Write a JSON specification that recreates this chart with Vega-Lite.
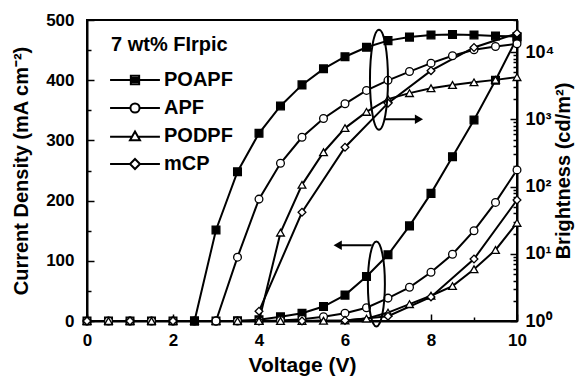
{
  "$schema": "https://vega.github.io/schema/vega-lite/v6.json",
  "width": 430,
  "height": 301,
  "autosize": {"type": "none"},
  "padding": {"left": 87, "top": 20, "right": 67, "bottom": 57},
  "background": "white",
  "config": {
    "view": {"stroke": "black", "strokeWidth": 2},
    "font": "Liberation Sans",
    "axis": {
      "grid": false,
      "domainColor": "black",
      "domainWidth": 2,
      "tickColor": "black",
      "tickWidth": 1.5,
      "labelFont": "Liberation Sans",
      "labelFontWeight": "bold",
      "labelFontSize": 17,
      "labelColor": "black",
      "titleFont": "Liberation Sans",
      "titleFontWeight": "bold",
      "titleFontSize": 20,
      "titleColor": "black"
    },
    "legend": {
      "labelFont": "Liberation Sans",
      "labelFontWeight": "bold",
      "labelFontSize": 20,
      "labelColor": "black",
      "titleFont": "Liberation Sans",
      "titleFontWeight": "bold",
      "titleFontSize": 20,
      "titleColor": "black"
    }
  },
  "datasets": {
    "cur": [
      {"s": "POAPF", "v": 0, "j": 0}, {"s": "POAPF", "v": 0.5, "j": 0}, {"s": "POAPF", "v": 1, "j": 0}, {"s": "POAPF", "v": 1.5, "j": 0}, {"s": "POAPF", "v": 2, "j": 0}, {"s": "POAPF", "v": 2.5, "j": 0}, {"s": "POAPF", "v": 3, "j": 0}, {"s": "POAPF", "v": 3.5, "j": 0.5}, {"s": "POAPF", "v": 4, "j": 2}, {"s": "POAPF", "v": 4.5, "j": 7}, {"s": "POAPF", "v": 5, "j": 13}, {"s": "POAPF", "v": 5.5, "j": 24}, {"s": "POAPF", "v": 6, "j": 43}, {"s": "POAPF", "v": 6.5, "j": 74}, {"s": "POAPF", "v": 7, "j": 110}, {"s": "POAPF", "v": 7.5, "j": 158}, {"s": "POAPF", "v": 8, "j": 212}, {"s": "POAPF", "v": 8.5, "j": 273}, {"s": "POAPF", "v": 9, "j": 334}, {"s": "POAPF", "v": 9.5, "j": 400}, {"s": "POAPF", "v": 10, "j": 470},
      {"s": "APF", "v": 0, "j": 0}, {"s": "APF", "v": 0.5, "j": 0}, {"s": "APF", "v": 1, "j": 0}, {"s": "APF", "v": 1.5, "j": 0}, {"s": "APF", "v": 2, "j": 0}, {"s": "APF", "v": 2.5, "j": 0}, {"s": "APF", "v": 3, "j": 0}, {"s": "APF", "v": 3.5, "j": 0}, {"s": "APF", "v": 4, "j": 0.5}, {"s": "APF", "v": 4.5, "j": 1}, {"s": "APF", "v": 5, "j": 3}, {"s": "APF", "v": 5.5, "j": 7}, {"s": "APF", "v": 6, "j": 13}, {"s": "APF", "v": 6.5, "j": 22}, {"s": "APF", "v": 7, "j": 38}, {"s": "APF", "v": 7.5, "j": 56}, {"s": "APF", "v": 8, "j": 81}, {"s": "APF", "v": 8.5, "j": 111}, {"s": "APF", "v": 9, "j": 150}, {"s": "APF", "v": 9.5, "j": 197}, {"s": "APF", "v": 10, "j": 251},
      {"s": "PODPF", "v": 0, "j": 0}, {"s": "PODPF", "v": 0.5, "j": 0}, {"s": "PODPF", "v": 1, "j": 0}, {"s": "PODPF", "v": 1.5, "j": 0}, {"s": "PODPF", "v": 2, "j": 0}, {"s": "PODPF", "v": 2.5, "j": 0}, {"s": "PODPF", "v": 3, "j": 0}, {"s": "PODPF", "v": 3.5, "j": 0}, {"s": "PODPF", "v": 4, "j": 0}, {"s": "PODPF", "v": 4.5, "j": 0}, {"s": "PODPF", "v": 5, "j": 0}, {"s": "PODPF", "v": 5.5, "j": 0.5}, {"s": "PODPF", "v": 6, "j": 1}, {"s": "PODPF", "v": 6.5, "j": 4}, {"s": "PODPF", "v": 7, "j": 14}, {"s": "PODPF", "v": 7.5, "j": 28}, {"s": "PODPF", "v": 8, "j": 42}, {"s": "PODPF", "v": 8.5, "j": 58}, {"s": "PODPF", "v": 9, "j": 86}, {"s": "PODPF", "v": 9.5, "j": 118}, {"s": "PODPF", "v": 10, "j": 163},
      {"s": "mCP", "v": 0, "j": 0}, {"s": "mCP", "v": 1, "j": 0}, {"s": "mCP", "v": 2, "j": 0}, {"s": "mCP", "v": 3, "j": 0}, {"s": "mCP", "v": 4, "j": 0}, {"s": "mCP", "v": 5, "j": 0}, {"s": "mCP", "v": 6, "j": 1}, {"s": "mCP", "v": 7, "j": 8}, {"s": "mCP", "v": 8, "j": 40}, {"s": "mCP", "v": 9, "j": 103}, {"s": "mCP", "v": 10, "j": 201}
    ],
    "bri": [
      {"s": "POAPF", "v": 2.5, "b": 1}, {"s": "POAPF", "v": 3, "b": 22.6}, {"s": "POAPF", "v": 3.5, "b": 166}, {"s": "POAPF", "v": 4, "b": 620}, {"s": "POAPF", "v": 4.5, "b": 1580}, {"s": "POAPF", "v": 5, "b": 3250}, {"s": "POAPF", "v": 5.5, "b": 5630}, {"s": "POAPF", "v": 6, "b": 8530}, {"s": "POAPF", "v": 6.5, "b": 11800}, {"s": "POAPF", "v": 7, "b": 14800}, {"s": "POAPF", "v": 7.5, "b": 16700}, {"s": "POAPF", "v": 8, "b": 18000}, {"s": "POAPF", "v": 8.5, "b": 18200}, {"s": "POAPF", "v": 9, "b": 18000}, {"s": "POAPF", "v": 9.5, "b": 17400}, {"s": "POAPF", "v": 10, "b": 17000},
      {"s": "APF", "v": 3, "b": 1}, {"s": "APF", "v": 3.5, "b": 8.9}, {"s": "APF", "v": 4, "b": 65}, {"s": "APF", "v": 4.5, "b": 222}, {"s": "APF", "v": 5, "b": 540}, {"s": "APF", "v": 5.5, "b": 1030}, {"s": "APF", "v": 6, "b": 1700}, {"s": "APF", "v": 6.5, "b": 2690}, {"s": "APF", "v": 7, "b": 3800}, {"s": "APF", "v": 7.5, "b": 5130}, {"s": "APF", "v": 8, "b": 6840}, {"s": "APF", "v": 8.5, "b": 8810}, {"s": "APF", "v": 9, "b": 10800}, {"s": "APF", "v": 9.5, "b": 12100}, {"s": "APF", "v": 10, "b": 13300},
      {"s": "PODPF", "v": 4, "b": 1}, {"s": "PODPF", "v": 4.5, "b": 20.6}, {"s": "PODPF", "v": 5, "b": 106}, {"s": "PODPF", "v": 5.5, "b": 324}, {"s": "PODPF", "v": 6, "b": 740}, {"s": "PODPF", "v": 6.5, "b": 1290}, {"s": "PODPF", "v": 7, "b": 2000}, {"s": "PODPF", "v": 7.5, "b": 2450}, {"s": "PODPF", "v": 8, "b": 2900}, {"s": "PODPF", "v": 8.5, "b": 3240}, {"s": "PODPF", "v": 9, "b": 3550}, {"s": "PODPF", "v": 9.5, "b": 3860}, {"s": "PODPF", "v": 10, "b": 4240},
      {"s": "mCP", "v": 4, "b": 1.4}, {"s": "mCP", "v": 5, "b": 41.4}, {"s": "mCP", "v": 6, "b": 384}, {"s": "mCP", "v": 7, "b": 1740}, {"s": "mCP", "v": 8, "b": 5290}, {"s": "mCP", "v": 9, "b": 11700}, {"s": "mCP", "v": 10, "b": 19000}
    ]
  },
  "layer": [
    {
      "encoding": {
        "x": {"field": "v", "type": "quantitative", "scale": {"domain": [0, 10], "nice": false},
          "axis": {"title": "Voltage (V)", "titleFontSize": 21, "values": [0,1,2,3,4,5,6,7,8,9,10], "labelExpr": "datum.value % 2 == 0 ? datum.label : ''", "tickSize": {"condition": {"test": "datum.value % 2 == 0", "value": -7}, "value": -4}, "labelPadding": 18, "titlePadding": 6, "labelFlush": false}},
        "y": {"field": "j", "type": "quantitative", "scale": {"domain": [0, 500], "nice": false},
          "axis": {"title": "Current Density (mA cm⁻²)", "orient": "left", "values": [0,50,100,150,200,250,300,350,400,450,500], "labelExpr": "datum.value % 100 == 0 ? datum.label : ''", "tickSize": {"condition": {"test": "datum.value % 100 == 0", "value": -7}, "value": -4}, "labelPadding": 20, "titlePadding": 14, "labelFlush": false}}
      },
      "layer": [
        {"data": {"name": "cur"}, "mark": {"type": "line", "color": "black", "strokeWidth": 2}, "encoding": {"detail": {"field": "s"}}},
        {"data": {"name": "cur"}, "mark": {"type": "point", "stroke": "black", "strokeWidth": 1.3, "opacity": 1, "size": 60},
          "encoding": {
            "shape": {"field": "s", "type": "nominal", "scale": {"domain": ["POAPF", "APF", "PODPF", "mCP"], "range": ["square", "circle", "triangle-up", "diamond"]}, "legend": null},
            "fill": {"field": "s", "type": "nominal", "scale": {"domain": ["POAPF", "APF", "PODPF", "mCP"], "range": ["black", "white", "white", "white"]}, "legend": null}
          }},
        {"data": {"values": [{"v": 6.73, "j": 61.5}]}, "mark": {"type": "point", "shape": "M0,-1C0.11,-1,0.2,-0.5523,0.2,0C0.2,0.5523,0.11,1,0,1C-0.11,1,-0.2,0.5523,-0.2,0C-0.2,-0.5523,-0.11,-1,0,-1Z", "size": 7225, "filled": false, "stroke": "black", "strokeWidth": 2, "opacity": 1}},
        {"data": {"values": [{"v": 6.62, "v2": 5.85, "j": 126}]}, "mark": {"type": "rule", "color": "black", "strokeWidth": 2}, "encoding": {"x2": {"field": "v2"}}},
        {"data": {"values": [{"v": 5.83, "j": 126}]}, "mark": {"type": "point", "shape": "triangle-left", "size": 90, "filled": true, "color": "black", "opacity": 1}}
      ]
    },
    {
      "encoding": {
        "x": {"field": "v", "type": "quantitative", "scale": {"domain": [0, 10], "nice": false}},
        "y": {"field": "b", "type": "quantitative", "scale": {"type": "log", "domain": [1, 30000], "nice": false},
          "axis": {"title": "Brightness (cd/m²)", "orient": "right", "titleAngle": -90, "values": [1,2,3,4,5,6,7,8,9,10,20,30,40,50,60,70,80,90,100,200,300,400,500,600,700,800,900,1000,2000,3000,4000,5000,6000,7000,8000,9000,10000,20000,30000],
            "labelExpr": "datum.value == 1 ? '10⁰' : datum.value == 10 ? '10¹' : datum.value == 100 ? '10²' : datum.value == 1000 ? '10³' : datum.value == 10000 ? '10⁴' : ''",
            "tickSize": {"condition": {"test": "datum.value == 1 || datum.value == 10 || datum.value == 100 || datum.value == 1000 || datum.value == 10000", "value": -7}, "value": -4}, "labelPadding": 15, "titlePadding": 20, "labelFlush": false, "labelFontSize": 18}}
      },
      "layer": [
        {"data": {"name": "bri"}, "mark": {"type": "line", "color": "black", "strokeWidth": 2}, "encoding": {"detail": {"field": "s"}}},
        {"data": {"name": "bri"}, "mark": {"type": "point", "stroke": "black", "strokeWidth": 1.3, "opacity": 1, "size": 60},
          "encoding": {
            "shape": {"field": "s", "type": "nominal", "scale": {"domain": ["POAPF", "APF", "PODPF", "mCP"], "range": ["square", "circle", "triangle-up", "diamond"]}, "legend": null},
            "fill": {"field": "s", "type": "nominal", "scale": {"domain": ["POAPF", "APF", "PODPF", "mCP"], "range": ["black", "white", "white", "white"]}, "legend": null}
          }},
        {"data": {"values": [{"v": 6.79, "b": 3870}]}, "mark": {"type": "point", "shape": "M0,-1C0.0994,-1,0.18,-0.5523,0.18,0C0.18,0.5523,0.0994,1,0,1C-0.0994,1,-0.18,0.5523,-0.18,0C-0.18,-0.5523,-0.0994,-1,0,-1Z", "size": 10000, "filled": false, "stroke": "black", "strokeWidth": 2, "opacity": 1}},
        {"data": {"values": [{"v": 6.93, "v2": 7.7, "b": 1000}]}, "mark": {"type": "rule", "color": "black", "strokeWidth": 2}, "encoding": {"x2": {"field": "v2"}}},
        {"data": {"values": [{"v": 7.72, "b": 1000}]}, "mark": {"type": "point", "shape": "triangle-right", "size": 90, "filled": true, "color": "black", "opacity": 1}}
      ]
    },
    {
      "data": {"name": "bri"},
      "transform": [{"filter": "false"}],
      "mark": {"type": "point", "filled": false, "stroke": "black", "strokeWidth": 2, "opacity": 1},
      "encoding": {
        "shape": {"field": "s", "type": "nominal",
          "scale": {"domain": ["POAPF", "APF", "PODPF", "mCP"],
            "range": [
              "M-3,0H-0.5M0.5,0H3M-0.5,-0.5H0.5V0.5H-0.5ZM-0.5,-0.25H0.5M-0.5,0H0.5M-0.5,0.25H0.5",
              "M-3,0H-0.55M0.55,0H3M0.55,0C0.55,0.304,0.304,0.55,0,0.55C-0.304,0.55,-0.55,0.304,-0.55,0C-0.55,-0.304,-0.304,-0.55,0,-0.55C0.304,-0.55,0.55,-0.304,0.55,0Z",
              "M-3,0.1H-0.35M0.35,0.1H3M0,-0.55L0.6,0.5H-0.6Z",
              "M-3,0H-0.6M0.6,0H3M0,-0.6L0.6,0L0,0.6L-0.6,0Z"
            ]},
          "legend": {"title": "7 wt% FIrpic", "orient": "none", "legendX": 24, "legendY": 15, "symbolSize": 276, "symbolStrokeWidth": 2, "symbolStrokeColor": "black", "symbolOpacity": 1, "symbolOffset": 14, "labelOffset": 19, "rowPadding": 8, "titlePadding": 15}}
      }
    }
  ],
  "resolve": {"scale": {"y": "independent", "shape": "independent", "fill": "independent"}, "axis": {"y": "independent"}}
}
